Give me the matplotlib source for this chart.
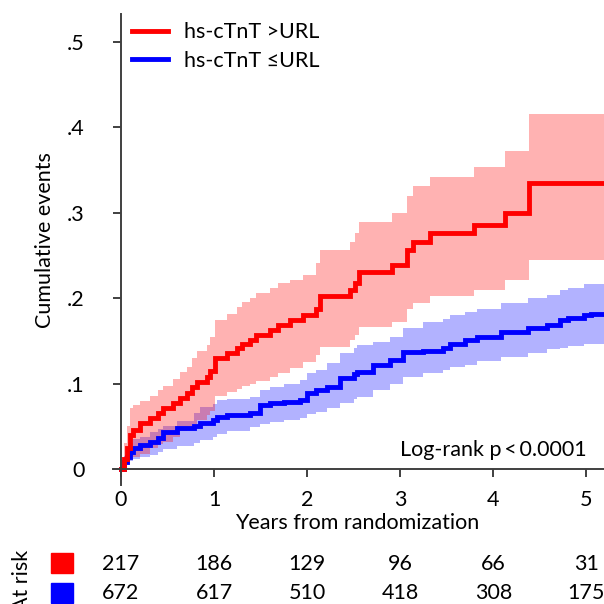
import matplotlib.pyplot as plt
from matplotlib.patches import Rectangle
from matplotlib.transforms import blended_transform_factory

plt.rcParams['font.family'] = ['Lato', 'DejaVu Sans']

# step times (years) and cumulative incidence with 95% CI, hs-cTnT > URL
t_hi = [0, 0.03, 0.06, 0.10, 0.13, 0.20, 0.31, 0.40, 0.45, 0.56, 0.63, 0.71, 0.76,
        0.82, 0.92, 0.96, 1.01, 1.14, 1.25, 1.30, 1.39, 1.45, 1.60, 1.69, 1.82,
        1.96, 2.10, 2.14, 2.46, 2.52, 2.56, 2.91, 3.07, 3.14, 3.32, 3.79, 4.13,
        4.38, 5.19]
est_hi = [0, 0.012, 0.025, 0.040, 0.046, 0.054, 0.060, 0.066, 0.071, 0.077, 0.083,
          0.089, 0.096, 0.102, 0.108, 0.115, 0.130, 0.136, 0.142, 0.147, 0.151,
          0.157, 0.163, 0.169, 0.175, 0.180, 0.188, 0.203, 0.210, 0.218, 0.231,
          0.239, 0.256, 0.266, 0.276, 0.286, 0.300, 0.335, 0.335]
lo_hi = [0, 0.002, 0.007, 0.012, 0.014, 0.018, 0.025, 0.029, 0.032, 0.038, 0.044,
         0.049, 0.053, 0.057, 0.063, 0.068, 0.085, 0.090, 0.094, 0.097, 0.100,
         0.103, 0.108, 0.112, 0.118, 0.125, 0.133, 0.143, 0.151, 0.157, 0.166,
         0.172, 0.187, 0.195, 0.203, 0.210, 0.221, 0.245, 0.245]
up_hi = [0, 0.030, 0.050, 0.071, 0.075, 0.080, 0.086, 0.093, 0.097, 0.106, 0.114,
         0.120, 0.130, 0.138, 0.145, 0.155, 0.174, 0.182, 0.190, 0.196, 0.200,
         0.206, 0.212, 0.218, 0.221, 0.227, 0.241, 0.257, 0.266, 0.276, 0.289,
         0.300, 0.320, 0.331, 0.342, 0.354, 0.372, 0.416, 0.416]

# hs-cTnT <= URL
t_lo = [0, 0.03, 0.06, 0.10, 0.13, 0.20, 0.31, 0.40, 0.45, 0.60, 0.78, 0.85, 0.99,
        1.03, 1.14, 1.39, 1.49, 1.60, 1.75, 1.92, 2.00, 2.10, 2.21, 2.35, 2.50,
        2.54, 2.71, 2.89, 3.03, 3.25, 3.46, 3.54, 3.70, 3.83, 4.08, 4.37, 4.58,
        4.72, 4.80, 4.97, 5.05, 5.19]
est_lo = [0, 0.008, 0.014, 0.020, 0.025, 0.028, 0.032, 0.036, 0.043, 0.048, 0.050,
          0.054, 0.058, 0.061, 0.063, 0.066, 0.075, 0.077, 0.079, 0.081, 0.089,
          0.093, 0.096, 0.107, 0.111, 0.114, 0.122, 0.128, 0.137, 0.138, 0.142,
          0.147, 0.151, 0.155, 0.160, 0.165, 0.169, 0.174, 0.177, 0.180, 0.182,
          0.182]
lo_lo = [0, 0.003, 0.006, 0.009, 0.012, 0.014, 0.017, 0.020, 0.024, 0.027, 0.030,
         0.034, 0.038, 0.041, 0.045, 0.049, 0.053, 0.055, 0.057, 0.060, 0.064,
         0.067, 0.071, 0.077, 0.082, 0.084, 0.092, 0.100, 0.108, 0.112, 0.116,
         0.119, 0.122, 0.126, 0.131, 0.136, 0.140, 0.142, 0.144, 0.146, 0.147,
         0.147]
up_lo = [0, 0.015, 0.022, 0.030, 0.035, 0.038, 0.043, 0.047, 0.050, 0.056, 0.066,
         0.073, 0.076, 0.081, 0.082, 0.084, 0.092, 0.096, 0.100, 0.104, 0.112,
         0.116, 0.124, 0.136, 0.142, 0.145, 0.149, 0.155, 0.165, 0.172, 0.176,
         0.180, 0.184, 0.188, 0.194, 0.200, 0.204, 0.210, 0.212, 0.217, 0.217,
         0.217]

risk_years = [0, 1, 2, 3, 4, 5]
risk_hi = [217, 186, 129, 96, 66, 31]
risk_lo = [672, 617, 510, 418, 308, 175]

fs = 15.5
fig = plt.figure(figsize=(6.04, 6.04), dpi=100)
ax = fig.add_axes([0.187, 0.197, 0.813, 0.780])

ax.fill_between(t_lo, lo_lo, up_lo, step='post', color='#0000ff', alpha=0.3, lw=0)
ax.fill_between(t_hi, lo_hi, up_hi, step='post', color='#ff0000', alpha=0.3, lw=0)
ax.plot(t_lo, est_lo, drawstyle='steps-post', color='#0000ff', lw=3.5,
        solid_joinstyle='miter', label='hs-cTnT \u2264URL')
ax.plot(t_hi, est_hi, drawstyle='steps-post', color='#ff0000', lw=3.5,
        solid_joinstyle='miter', label='hs-cTnT >URL')

ax.set_xlim(-0.086, 5.19)
ax.set_ylim(-0.0187, 0.533)
for s in ['top', 'right']:
    ax.spines[s].set_visible(False)
ax.spines['left'].set_position(('data', 0))
ax.spines['bottom'].set_position(('data', 0))
for s in ['left', 'bottom']:
    ax.spines[s].set_color('#404040')
    ax.spines[s].set_linewidth(1.4)

ax.set_xticks(risk_years)
ax.set_yticks([0, 0.1, 0.2, 0.3, 0.4, 0.5])
ax.set_yticklabels(['0', '.1', '.2', '.3', '.4', '.5'])
ax.tick_params(axis='y', direction='out', length=6, width=1.4, color='#404040',
               labelsize=fs, pad=20)
ax.tick_params(axis='x', direction='out', length=6, width=1.4, color='#404040',
               labelsize=fs, pad=9)
ax.set_xlabel('Years from randomization', fontsize=fs, va='center')
ax.xaxis.set_label_coords(0.497, -(523 - 485) / 471)
ax.set_ylabel('Cumulative events', fontsize=fs, va='center')
ax.yaxis.set_label_coords((45 - 113) / 491, 0.52)

handles, labels = ax.get_legend_handles_labels()
ax.legend(handles[::-1], labels[::-1], loc='upper left', bbox_to_anchor=(0.187, 0.995),
          bbox_transform=fig.transFigure, frameon=False, fontsize=fs,
          handlelength=1.65, handletextpad=0.75, labelspacing=0.4)

ax.text(5.0, 0.022, 'Log-rank p\u2009<\u20090.0001', ha='right', va='center', fontsize=fs)

# at-risk table
tr = blended_transform_factory(ax.transData, fig.transFigure)
for x, a, b in zip(risk_years, risk_hi, risk_lo):
    ax.text(x, 1 - 564 / 604, str(a), transform=tr, ha='center', va='center',
            fontsize=fs, clip_on=False)
    ax.text(x, 1 - 593 / 604, str(b), transform=tr, ha='center', va='center',
            fontsize=fs, clip_on=False)
fig.patches.append(Rectangle((51 / 604, 1 - 573 / 604), 22 / 604, 20 / 604,
                             transform=fig.transFigure, color='#ff0000'))
fig.patches.append(Rectangle((51 / 604, 1 - 603 / 604), 22 / 604, 20 / 604,
                             transform=fig.transFigure, color='#0000ff'))
fig.text(22 / 604, 1 - 580 / 604, 'At risk', rotation=90, ha='center', va='center',
         fontsize=fs)

fig.savefig('out.png', dpi=100)
